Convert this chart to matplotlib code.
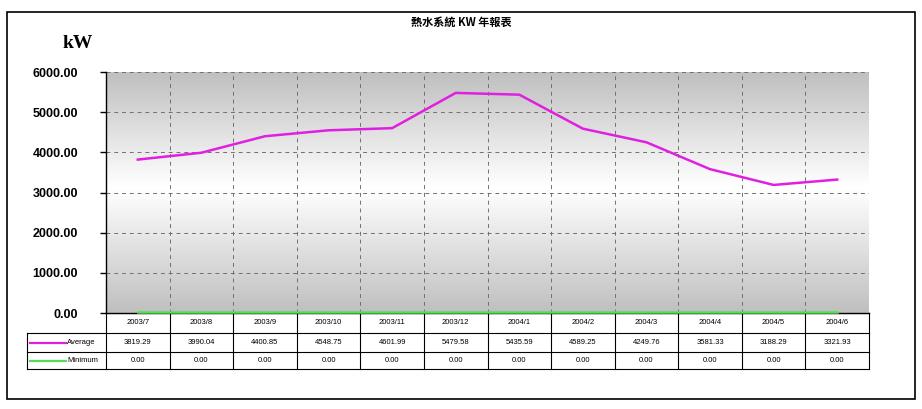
import numpy as np
import matplotlib.pyplot as plt
import matplotlib.transforms as mtransforms
from matplotlib.patches import Rectangle

plt.rcParams['font.family'] = ['Liberation Sans', 'Noto Sans CJK TC', 'DejaVu Sans']

months = ["2003/7", "2003/8", "2003/9", "2003/10", "2003/11", "2003/12",
          "2004/1", "2004/2", "2004/3", "2004/4", "2004/5", "2004/6"]
average = [3819.29, 3990.04, 4400.85, 4548.75, 4601.99, 5479.58,
           5435.59, 4589.25, 4249.76, 3581.33, 3188.29, 3321.93]
minimum = [0.00] * 12
yticks = [0, 1000, 2000, 3000, 4000, 5000, 6000]

avg_col = "#e020e0"
min_col = "#55dd55"

W, H = 922, 409
fig = plt.figure(figsize=(W / 100, H / 100), dpi=100)

def px(x0, y0, x1, y1):
    # pixel box (top-left origin) -> figure fraction
    return [x0 / W, 1 - y1 / H, (x1 - x0) / W, (y1 - y0) / H]

# outer frame
bg = fig.add_axes([0, 0, 1, 1])
bg.set_xlim(0, W)
bg.set_ylim(H, 0)
bg.axis("off")
bg.add_patch(Rectangle((7, 12), 908, 387, fill=False, ec="black", lw=1.2))
bg.text(461, 22, "熱水系統 KW 年報表", ha="center", va="center", fontsize=8,
        fontweight="bold", family=['Noto Sans CJK TC', 'DejaVu Sans'])
bg.text(78, 43, "kW", ha="center", va="center", fontsize=14,
        fontweight="bold", family="Liberation Serif")

# plot area
L, R, T, B = 106, 869, 72, 313
ax = fig.add_axes(px(L, T, R, B))
n = len(months)
x = np.arange(n)
ax.set_xlim(-0.5, n - 0.5)
ax.set_ylim(0, 6000)

grad = np.concatenate([np.linspace(0.75, 1.0, 48), np.linspace(1.0, 0.75, 52)])
ax.imshow(grad[:, None], cmap="gray", vmin=0, vmax=1, aspect="auto",
          extent=(0, 1, 0, 1), transform=ax.transAxes, zorder=0)

for b in np.arange(-0.5, n, 1.0)[1:-1]:
    ax.axvline(b, color="#707070", lw=0.7, ls=(0, (4, 4)), zorder=1)
for yv in yticks[1:]:
    ax.axhline(yv, color="#707070", lw=0.7, ls=(0, (4, 4)), zorder=1)

ax.plot(x, average, color=avg_col, lw=1.8, zorder=3)
# zero line sits just above the x axis line, as in the source
lift = mtransforms.offset_copy(ax.transData, fig=fig, x=0, y=1.5, units="dots")
ax.plot(x, minimum, color=min_col, lw=1.8, zorder=4, clip_on=False, transform=lift)

ax.set_yticks(yticks)
ax.set_yticklabels([f"{v:.2f}" for v in yticks], fontsize=9, fontweight="bold")
ax.set_xticks([])
ax.tick_params(axis="y", length=4, width=1, pad=16)
for s in ["top", "right"]:
    ax.spines[s].set_visible(False)
ax.spines["left"].set_linewidth(1.0)
ax.spines["bottom"].set_linewidth(1.0)

# data table under the plot
cw = (R - L) / n
rows = [313, 333, 352, 369]
lx = 27
for i in range(n + 1):
    xx = L + i * cw
    bg.plot([xx, xx], [rows[0], rows[3]], color="black", lw=0.8)
bg.plot([lx, lx], [rows[1], rows[3]], color="black", lw=0.8)
bg.plot([L, R], [rows[0], rows[0]], color="black", lw=0.8)
for yy in rows[1:]:
    bg.plot([lx, R], [yy, yy], color="black", lw=0.8)

for i, m in enumerate(months):
    cx = L + (i + 0.5) * cw
    bg.text(cx, (rows[0] + rows[1]) / 2, m, ha="center", va="center", fontsize=5.5)
    bg.text(cx, (rows[1] + rows[2]) / 2, f"{average[i]:.2f}", ha="center",
            va="center", fontsize=5.5)
    bg.text(cx, (rows[2] + rows[3]) / 2, f"{minimum[i]:.2f}", ha="center",
            va="center", fontsize=5.5)

for (r0, r1), label, col in [((rows[1], rows[2]), "Average", avg_col),
                             ((rows[2], rows[3]), "Minimum", min_col)]:
    yy = (r0 + r1) / 2
    bg.plot([30, 66], [yy, yy], color=col, lw=1.6)
    bg.text(67, yy, label, ha="left", va="center", fontsize=5.5)

fig.savefig("out.png", dpi=100)
